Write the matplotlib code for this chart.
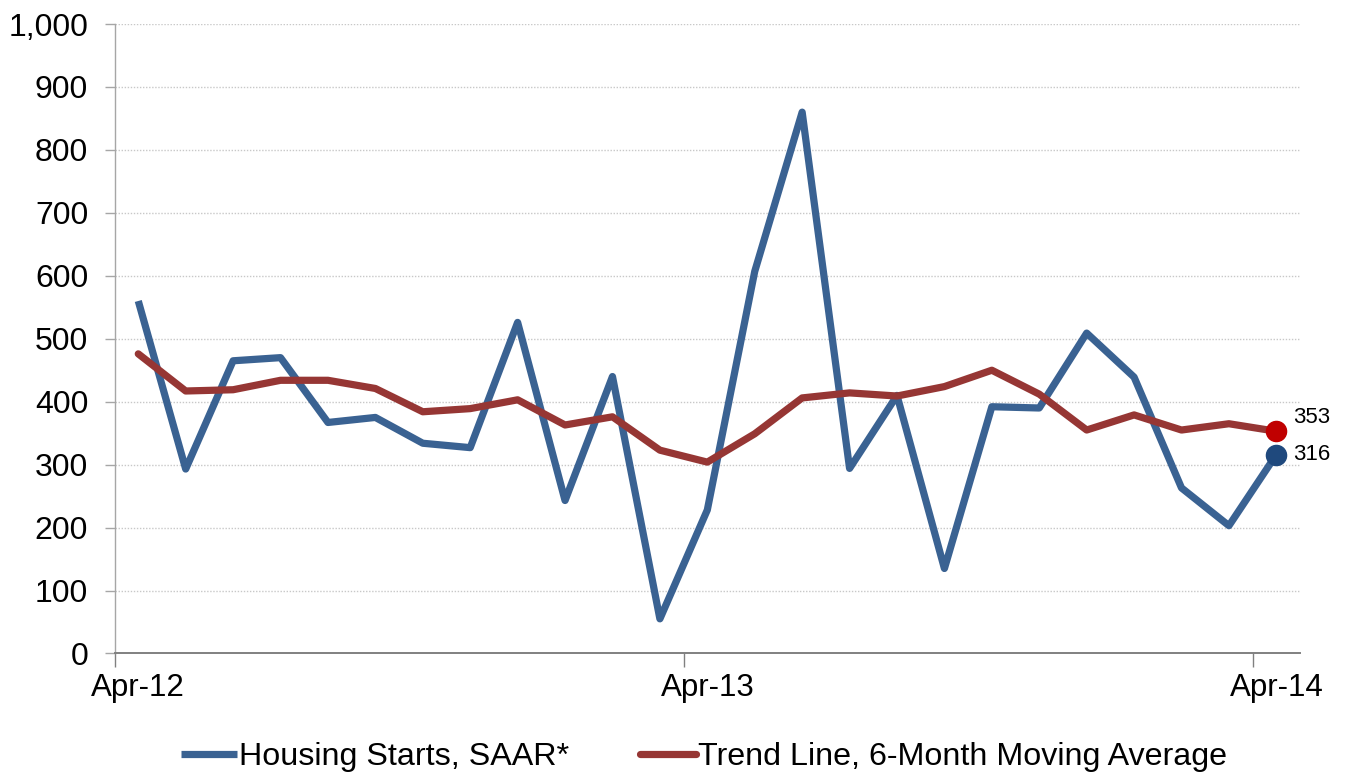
"""Housing starts vs 6-month moving average trend line."""
import matplotlib
matplotlib.use("Agg")
import matplotlib.pyplot as plt
from matplotlib.ticker import FuncFormatter

plt.rcParams["font.family"] = ["Liberation Sans", "DejaVu Sans"]

# monthly data, Apr-12 .. Apr-14
months = ["Apr-12", "May-12", "Jun-12", "Jul-12", "Aug-12", "Sep-12", "Oct-12",
          "Nov-12", "Dec-12", "Jan-13", "Feb-13", "Mar-13", "Apr-13", "May-13",
          "Jun-13", "Jul-13", "Aug-13", "Sep-13", "Oct-13", "Nov-13", "Dec-13",
          "Jan-14", "Feb-14", "Mar-14", "Apr-14"]
starts = [560, 293, 465, 470, 367, 375, 334, 327, 526, 243, 440, 55, 228,
          607, 860, 294, 410, 135, 392, 390, 509, 439, 263, 203, 316]
trend = [476, 417, 419, 434, 434, 421, 384, 389, 403, 363, 376, 323, 304,
         349, 406, 414, 409, 424, 450, 412, 355, 379, 355, 365, 353]
y_ticks = list(range(0, 1001, 100))

BLUE = "#3a6292"
RED = "#963634"

fig = plt.figure(figsize=(13.51, 7.75), dpi=100)
ax = fig.add_axes([0.0848, 0.1568, 0.9623 - 0.0848, 0.969 - 0.1568])

x = list(range(len(months)))
ax.plot(x, starts, color=BLUE, lw=5.2, solid_joinstyle="round",
        solid_capstyle="butt", label="Housing Starts, SAAR*", zorder=3)
ax.plot(x, trend, color=RED, lw=5.2, solid_joinstyle="round",
        solid_capstyle="round", label="Trend Line, 6-Month Moving Average",
        zorder=3)

# end-point markers and labels
ax.plot(x[-1], trend[-1], "o", color="#c00000", ms=14.5, zorder=4)
ax.plot(x[-1], starts[-1], "o", color="#1f497d", ms=14.5, zorder=4)
ax.annotate(f"{trend[-1]}", (x[-1], trend[-1]), xytext=(12, 10),
            textcoords="offset points", ha="left", va="center", fontsize=16)
ax.annotate(f"{starts[-1]}", (x[-1], starts[-1]), xytext=(12, 0),
            textcoords="offset points", ha="left", va="center", fontsize=16)

ax.set_xlim(-0.5, len(months) - 0.5)
ax.set_ylim(0, 1000)

# labels centred on the yearly points, tick marks on category boundaries
lab_idx = [i for i in x if i % 12 == 0]
ax.set_xticks(lab_idx)
ax.set_xticklabels([months[i] for i in lab_idx])
ax.set_xticks([i - 0.5 for i in lab_idx], minor=True)
ax.tick_params(axis="x", which="major", length=0, pad=14, labelsize=22.5)
ax.tick_params(axis="x", which="minor", length=10, width=1, color="#808080")

ax.set_yticks(y_ticks)
ax.yaxis.set_major_formatter(FuncFormatter(lambda v, p: f"{v:,.0f}"))
ax.tick_params(axis="y", length=7, width=1, color="#a6a6a6", pad=12,
               labelsize=23)

ax.grid(axis="y", color="#c8c8c8", lw=1, linestyle=(0, (1, 1.2)))
ax.set_axisbelow(True)
for s in ["top", "right"]:
    ax.spines[s].set_visible(False)
ax.spines["left"].set_color("#a6a6a6")
ax.spines["left"].set_linewidth(1)
ax.spines["bottom"].set_color("#808080")
ax.spines["bottom"].set_linewidth(1.4)
ax.spines["bottom"].set_zorder(5)

fig.legend(loc="center", bbox_to_anchor=(0.521, 0.023), ncol=2,
           frameon=False, fontsize=23.2, handlelength=1.75,
           handletextpad=0.05, columnspacing=2.2)

fig.savefig("out.png", dpi=100)
